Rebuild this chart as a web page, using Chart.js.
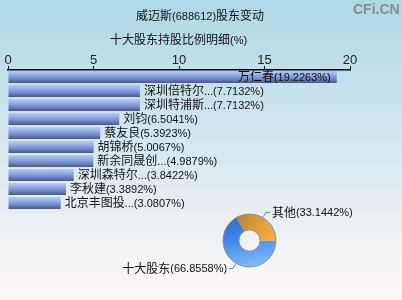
<!DOCTYPE html>
<html>
<head>
<meta charset="utf-8">
<script src="https://cdn.jsdelivr.net/npm/chart.js@4.4.1/dist/chart.umd.min.js"></script>
<style>
  html, body { margin: 0; padding: 0; }
  #wrap {
    position: relative;
    width: 402px;
    height: 300px;
    overflow: hidden;
    background: linear-gradient(to bottom, #add8e6 0%, #e4edf2 66%, #fff8f8 100%);
    font-family: "Noto Sans CJK SC", sans-serif;
    color: #111;
  }
  #wrap canvas { position: absolute; left: 0; top: 0; }
  .txt { position: absolute; white-space: nowrap; line-height: 14px; font-size: 12px; }
  .lat { font-family: "Liberation Sans", Arial, sans-serif; font-size: 11px; }
  #mark {
    position: absolute; left: 353px; top: 1px;
    font: bold 14px "Liberation Sans", Arial, sans-serif;
    color: #8c8c8c;
  }
</style>
</head>
<body>
<div id="wrap">
  <canvas id="barChart" width="402" height="300"></canvas>
  <canvas id="pieChart" width="402" height="300"></canvas>
  <div class="txt" style="left:136px; top:8px;">威迈斯<span class="lat">(688612)</span>股东变动</div>
  <div class="txt" style="left:110px; top:32px;">十大股东持股比例明细<span class="lat">(%)</span></div>
  <div id="mark">CFi.CN</div>
</div>
<script>
// top ten holders (percent of shares)
const holderNames = ['万仁春', '深圳倍特尔...', '深圳特浦斯...', '刘钧', '蔡友良', '胡锦桥', '新余同晟创...', '深圳森特尔...', '李秋建', '北京丰图投...'];
const holderPct = [19.2263, 7.7132, 7.7132, 6.5041, 5.3923, 5.0067, 4.9879, 3.8422, 3.3892, 3.0807];
const axisTicks = [0, 5, 10, 15, 20];

// share of top ten vs the rest
const pieNames = ['十大股东', '其他'];
const piePct = [66.8558, 33.1442];

const RUNS = /[\u3000-\u9fff\uff00-\uffef]+|[^\u3000-\u9fff\uff00-\uffef]+/g;
const CJK_FONT = '12px "Noto Sans CJK SC"';
const LAT_FONT = '11px "Liberation Sans"';

function isCjk(s) {
    return /[\u3000-\u9fff\uff00-\uffef]/.test(s);
}

function mixedWidth(ctx, text) {
    let w = 0;
    text.match(RUNS).forEach(r => {
        ctx.font = isCjk(r) ? CJK_FONT : LAT_FONT;
        w += ctx.measureText(r).width;
    });
    return w;
}

// draws text with CJK runs and latin runs in their own fonts
function drawMixed(ctx, text, x, y, align) {
    const total = mixedWidth(ctx, text);
    let cx = align === 'right' ? x - total : x;
    ctx.textAlign = 'left';
    ctx.textBaseline = 'middle';
    ctx.fillStyle = '#111';
    text.match(RUNS).forEach(r => {
        const c = isCjk(r);
        ctx.font = c ? CJK_FONT : LAT_FONT;
        ctx.fillText(r, cx, c ? y - 0.5 : y + 0.5);
        cx += ctx.measureText(r).width;
    });
}

const barLabels = {
    id: 'barLabels',
    afterDatasetsDraw(chart) {
        const ctx = chart.ctx;
        const meta = chart.getDatasetMeta(0);
        ctx.save();
        meta.data.forEach((bar, i) => {
            const text = holderNames[i] + '(' + holderPct[i].toFixed(4) + '%)';
            const w = mixedWidth(ctx, text);
            if (bar.x + 4 + w > chart.chartArea.right - 5) {
                drawMixed(ctx, text, bar.x - 6, bar.y, 'right');
            } else {
                drawMixed(ctx, text, bar.x + 4, bar.y, 'left');
            }
        });
        ctx.restore();
    }
};

function barFill(context) {
    const chart = context.chart;
    const yScale = chart.scales.y;
    if (!yScale || !chart.chartArea) return '#7d98d8';
    const yc = yScale.getPixelForValue(context.dataIndex);
    const h = 12;
    const g = chart.ctx.createLinearGradient(0, yc - h / 2, 0, yc + h / 2);
    g.addColorStop(0, '#b8caf6');
    g.addColorStop(0.3, '#97b0ec');
    g.addColorStop(0.65, '#7189c8');
    g.addColorStop(1, '#4a577e');
    return g;
}

new Chart(document.getElementById('barChart'), {
    type: 'bar',
    data: {
        labels: holderNames,
        datasets: [{
            data: holderPct,
            backgroundColor: barFill,
            borderWidth: 0,
            barPercentage: 0.86,
            categoryPercentage: 1
        }]
    },
    options: {
        indexAxis: 'y',
        responsive: false,
        animation: false,
        layout: { padding: { left: 8, right: 52, top: 48, bottom: 90 } },
        plugins: { legend: { display: false }, tooltip: { enabled: false } },
        scales: {
            x: {
                position: 'top',
                min: 0,
                max: 20,
                afterFit(scale) { scale.height = 22; },
                afterBuildTicks(scale) { scale.ticks = axisTicks.map(v => ({ value: v })); },
                ticks: {
                    color: '#222',
                    padding: -2,
                    font: { family: '"Liberation Sans"', size: 13 }
                },
                grid: { drawOnChartArea: false, tickLength: 4, color: '#000', lineWidth: 1 },
                border: { display: true, color: '#000', width: 1.5 }
            },
            y: { display: false }
        }
    },
    plugins: [barLabels]
});

const pieDecor = {
    id: 'pieDecor',
    afterDatasetsDraw(chart) {
        const ctx = chart.ctx;
        const arcs = chart.getDatasetMeta(0).data;
        if (!arcs.length) return;
        const a0 = arcs[0];
        ctx.save();
        ctx.strokeStyle = '#8e8e8e';
        ctx.lineWidth = 1;
        ctx.beginPath();
        ctx.arc(a0.x, a0.y, a0.outerRadius, 0, Math.PI * 2);
        ctx.stroke();
        ctx.beginPath();
        ctx.arc(a0.x, a0.y, a0.innerRadius, 0, Math.PI * 2);
        ctx.stroke();

        arcs.forEach((arc, i) => {
            const mid = (arc.startAngle + arc.endAngle) / 2;
            const dx = Math.cos(mid), dy = Math.sin(mid);
            const p0x = arc.x + dx * (arc.outerRadius + 1), p0y = arc.y + dy * (arc.outerRadius + 1);
            const p1x = arc.x + dx * (arc.outerRadius + 6), p1y = arc.y + dy * (arc.outerRadius + 6);
            const side = dx >= 0 ? 1 : -1;
            const p2x = p1x + side * 4;
            ctx.strokeStyle = '#777';
            ctx.beginPath();
            ctx.moveTo(p0x, p0y);
            ctx.lineTo(p1x, p1y);
            ctx.lineTo(p2x, p1y);
            ctx.stroke();
            const text = pieNames[i] + '(' + piePct[i].toFixed(4) + '%)';
            drawMixed(ctx, text, p2x + side * 2, p1y, side > 0 ? 'left' : 'right');
        });
        ctx.restore();
    }
};

function pieFill(context) {
    const chart = context.chart;
    const area = chart.chartArea;
    const i = context.dataIndex;
    if (!area) return i === 0 ? '#4a8ae6' : '#e8a23a';
    const ctx = chart.ctx;
    if (i === 0) {
        const g = ctx.createLinearGradient(area.left, area.top, area.left + 10, area.bottom);
        g.addColorStop(0, '#2b68c8');
        g.addColorStop(0.5, '#3f86e8');
        g.addColorStop(1, '#7ab6f8');
        return g;
    }
    const g = ctx.createLinearGradient(area.left, area.top, area.right, area.top + 20);
    g.addColorStop(0, '#946c2c');
    g.addColorStop(0.5, '#d09638');
    g.addColorStop(1, '#f6ae3e');
    return g;
}

new Chart(document.getElementById('pieChart'), {
    type: 'doughnut',
    data: {
        labels: pieNames,
        datasets: [{
            data: piePct,
            backgroundColor: pieFill,
            borderWidth: 0
        }]
    },
    options: {
        responsive: false,
        animation: false,
        rotation: 90,
        cutout: '40%',
        layout: { padding: { left: 223, right: 126, top: 214, bottom: 33 } },
        plugins: { legend: { display: false }, tooltip: { enabled: false } }
    },
    plugins: [pieDecor]
});
</script>
</body>
</html>
